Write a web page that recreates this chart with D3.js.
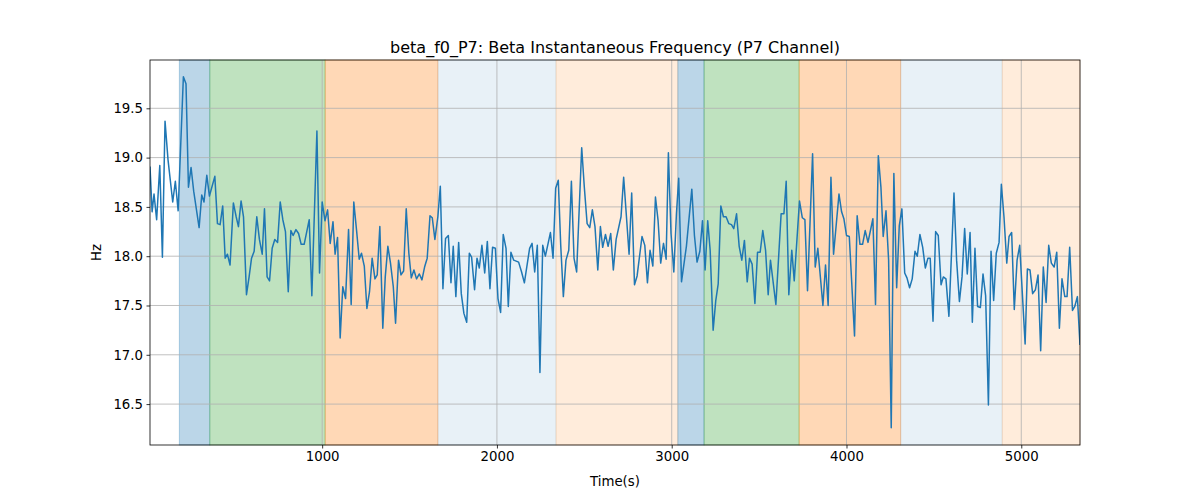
<!DOCTYPE html>
<html><head><meta charset="utf-8">
<script src="https://cdn.jsdelivr.net/npm/d3@7"></script>
<style>body{margin:0;background:#fff}svg{display:block}text{font-family:"DejaVu Sans",sans-serif}</style>
</head><body><svg id="c" width="1200" height="500"></svg>
<script>
const times = [15,27,38,53,71,86,101,118,145,160,176,206,221,235,250,265,296,311,324,340,355,386,401,416,431,445,458,473,492,508,521,536,550,567,582,596,611,626,641,657,670,685,699,714,729,745,760,775,790,806,821,834,850,865,880,897,926,941,970,985,1000,1016,1031,1046,1062,1074,1088,1103,
1118,1134,1151,1166,1181,1197,1212,1225,1241,1256,1271,1286,1302,1315,1330,1347,1361,1376,1391,1407,1420,1437,1451,1466,1481,1496,1510,1525,1540,1556,1571,1586,1601,1617,1630,1645,1662,1676,1691,1706,1722,1737,1750,1765,1781,1796,1811,1827,1842,1855,1872,1886,1899,1914,1930,1945,1960,1975,1991,2006,2021,2036,2052,2065,2080,2096,2124,
2141,2157,2187,2201,2216,2231,2246,2262,2277,2306,2321,2336,2351,2365,2380,2395,2411,2426,2441,2456,2485,2500,2516,2531,2546,2561,2577,2592,2605,2621,2636,2651,2666,2682,2710,2725,2741,2756,2771,2787,2802,2830,2846,2861,2876,2892,2907,2922,2937,2953,2968,2981,2996,3012,3027,3040,3056,3084,3115,3130,3145,3161,3176,3191,
3206,3220,3237,3252,3266,3281,3296,3311,3327,3342,3355,3371,3386,3401,3416,3432,3445,3460,3476,3491,3506,3521,3537,3552,3565,3596,3626,3642,3655,3670,3687,3701,3731,3747,3762,3777,3806,3821,3836,3865,3880,3895,3911,3926,3957,3972,3985,4000,4016,4046,4061,4077,4092,4107,4123,4151,4166,4182,4197,4210,4226,4241,4256,4271,
4287,4302,4317,4333,4346,4361,4376,4392,4405,4420,4436,4451,4466,4479,4495,4510,4525,4541,4554,4569,4586,4615,4630,4646,4661,4676,4691,4707,4720,4735,4750,4766,4781,4796,4812,4827,4842,4857,4873,4886,4901,4917,4930,4945,4960,4976,4991,5022,5035,5050,5065,5081,5096,5111,5126,5142,5157,5172,5188,5203,5218,5233,5249,5262,5277,5293,5306,5321,5336];
const freq = [18.91,18.45,18.63,18.37,18.92,17.99,19.37,18.98,18.55,18.76,18.46,19.82,19.75,18.70,18.90,18.66,18.29,18.62,18.55,18.82,18.61,18.81,18.33,18.32,18.51,17.98,18.02,17.91,18.54,18.40,18.30,18.56,18.40,17.61,17.79,17.98,18.05,18.40,18.17,18.02,18.48,17.79,17.75,18.08,18.17,18.14,18.55,18.37,18.25,17.64,18.26,18.21,18.27,18.23,18.12,18.12,18.37,17.60,19.27,17.83,18.55,18.36,18.47,18.13,18.35,18.02,18.19,17.17,
17.69,17.57,18.27,17.51,18.55,18.26,17.97,18.03,17.90,17.47,17.64,17.98,17.77,17.81,18.30,17.27,17.79,18.10,17.93,17.69,17.32,17.96,17.81,17.85,18.48,18.03,17.78,17.86,17.77,17.82,17.76,17.89,17.98,18.41,18.39,18.17,18.40,18.71,17.67,18.18,18.21,17.73,18.10,17.59,18.14,17.62,17.42,17.33,18.03,17.99,17.66,17.98,17.88,18.11,17.83,18.15,17.67,18.09,18.08,17.57,17.43,18.22,18.08,17.49,18.04,17.96,17.94,
17.84,17.73,18.08,18.13,17.84,18.11,16.82,18.11,18.00,18.24,17.98,18.69,18.77,18.11,17.59,17.96,18.06,18.76,17.98,17.84,19.10,18.70,18.33,18.29,18.47,18.30,17.86,18.30,18.09,18.22,18.10,18.23,17.86,18.17,18.40,18.80,18.40,18.02,18.64,17.71,17.80,18.20,18.11,17.73,18.06,17.90,18.60,18.36,17.93,18.13,17.97,19.05,18.23,17.84,18.43,18.79,17.74,18.10,18.68,18.21,17.94,18.05,18.36,17.86,
18.36,18.06,17.25,17.55,17.72,18.51,18.40,18.40,18.33,18.32,18.28,18.43,18.10,17.96,18.16,17.74,17.98,17.92,17.52,18.04,18.04,18.26,18.06,17.61,17.96,17.51,18.43,18.43,18.76,17.61,18.06,17.75,18.56,18.39,18.37,17.65,19.04,17.89,18.08,17.50,17.91,17.50,18.80,18.02,18.63,18.45,18.38,18.21,18.20,17.19,18.41,18.12,18.12,18.26,18.14,18.38,17.51,19.02,18.70,18.20,18.46,17.96,16.26,18.84,
17.68,18.31,18.48,17.83,17.78,17.68,17.77,18.05,18.00,18.22,18.09,17.88,17.98,17.98,17.34,18.25,18.21,17.71,17.79,17.77,17.39,18.64,17.96,17.54,17.79,18.28,17.82,18.24,17.33,18.08,17.49,17.48,17.82,17.60,16.49,18.05,17.55,18.03,18.14,18.73,18.40,17.93,18.20,18.24,17.46,17.96,18.11,17.11,17.87,17.86,17.62,17.66,17.81,17.04,17.89,17.53,18.11,17.93,17.89,18.04,17.27,17.77,17.59,17.59,18.09,17.45,17.49,17.59,17.10];
const bandStart = [183,357,1017,1662,2338,3035,3185,3729,4310,4891];
const bandEnd   = [357,1017,1662,2338,3035,3185,3729,4310,4891,5336];
const bandColor = ["#1f77b4","#2ca02c","#ff7f0e","#1f77b4","#ff7f0e","#1f77b4","#2ca02c","#ff7f0e","#1f77b4","#ff7f0e"];
const bandAlpha = [0.3,0.3,0.3,0.1,0.15,0.3,0.3,0.3,0.1,0.15];
const xTicks = [1000,2000,3000,4000,5000];
const yTicks = [16.5,17.0,17.5,18.0,18.5,19.0,19.5];
const title = "beta_f0_P7: Beta Instantaneous Frequency (P7 Channel)";

const svg = d3.select("#c");
const L=150,R=1080,T=60,B=445;
const x = d3.scaleLinear().domain([15,5336]).range([L,R]);
const y = d3.scaleLinear().domain([16.085,19.99]).range([B,T]);

const bands = bandStart.map((s,i)=>({s,e:bandEnd[i],c:bandColor[i],a:bandAlpha[i]}));
svg.append("g").selectAll("rect").data(bands).join("rect")
  .attr("x",d=>x(d.s)).attr("width",d=>x(d.e)-x(d.s)).attr("y",T).attr("height",B-T)
  .attr("fill",d=>d.c).attr("fill-opacity",d=>d.a)
  .attr("stroke",d=>d.c).attr("stroke-opacity",d=>d.a).attr("stroke-width",1);

const grid = svg.append("g").attr("stroke","#b0b0b0").attr("stroke-width",0.8);
xTicks.forEach(t=>grid.append("line").attr("x1",x(t)).attr("x2",x(t)).attr("y1",T).attr("y2",B));
yTicks.forEach(t=>grid.append("line").attr("y1",y(t)).attr("y2",y(t)).attr("x1",L).attr("x2",R));

const pts = times.map((t,i)=>[t,freq[i]]);
svg.append("defs").append("clipPath").attr("id","clip").append("rect").attr("x",L).attr("y",T).attr("width",R-L).attr("height",B-T);
svg.append("path").attr("clip-path","url(#clip)").datum(pts)
  .attr("d",d3.line().x(d=>x(d[0])).y(d=>y(d[1])))
  .attr("fill","none").attr("stroke","#1f77b4").attr("stroke-width",1.5).attr("stroke-linejoin","round");

const xa = svg.append("g").attr("transform",`translate(0,${B})`)
  .call(d3.axisBottom(x).tickValues(xTicks).tickFormat(d3.format("d")).tickSizeOuter(0).tickSize(3.5).tickPadding(3.5));
const ya = svg.append("g").attr("transform",`translate(${L},0)`)
  .call(d3.axisLeft(y).tickValues(yTicks).tickFormat(d3.format(".1f")).tickSizeOuter(0).tickSize(3.5).tickPadding(3.5));
[xa,ya].forEach(a=>{a.select(".domain").remove();a.selectAll("text").attr("font-size","13.3px").attr("fill","#000").attr("font-family","DejaVu Sans");a.selectAll("line").attr("stroke","#000").attr("stroke-width",0.8);});

svg.append("rect").attr("x",L).attr("y",T).attr("width",R-L).attr("height",B-T).attr("fill","none").attr("stroke","#000").attr("stroke-width",0.8);

svg.append("text").attr("x",(L+R)/2).attr("y",T-7).attr("text-anchor","middle").attr("font-size","16px").text(title);
svg.append("text").attr("x",(L+R)/2).attr("y",486).attr("text-anchor","middle").attr("font-size","13.3px").text("Time(s)");
svg.append("text").attr("transform",`translate(101,${(T+B)/2}) rotate(-90)`).attr("text-anchor","middle").attr("font-size","13.3px").text("Hz");
</script></body></html>
